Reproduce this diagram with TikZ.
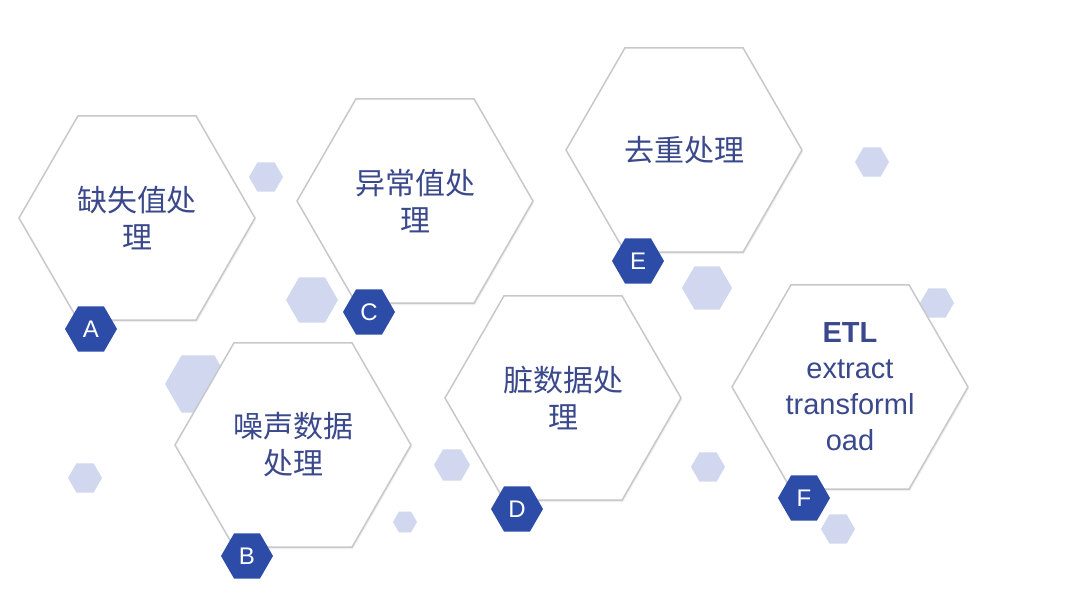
\documentclass[tikz,border=0pt]{standalone}
\usepackage{fontspec}
\setmainfont{Liberation Sans}
\newfontfamily\cjk{Noto Sans CJK SC}
\usetikzlibrary{shapes.geometric, calc, shadows}

\definecolor{hexline}{RGB}{200,200,204}
\definecolor{hextext}{RGB}{58,72,140}
\definecolor{badgeblue}{RGB}{45,76,168}
\definecolor{dotblue}{RGB}{208,215,238}

\begin{document}
\begin{tikzpicture}[
    x=1pt, y=-1pt,
    bighex/.style={regular polygon, regular polygon sides=6, minimum size=236pt, inner sep=0pt,
        draw=hexline, line width=1.5pt, fill=white, text=hextext, align=center,
        drop shadow={shadow xshift=1pt, shadow yshift=-2pt, opacity=0.12}},
    cjktext/.style={font=\cjk\fontsize{30}{37}\selectfont},
    etltext/.style={font=\fontsize{29}{36}\selectfont},
    badge/.style={regular polygon, regular polygon sides=6, minimum size=52pt, inner sep=0pt,
        fill=badgeblue, text=white, font=\fontsize{24}{24}\selectfont},
    dothex/.style={regular polygon, regular polygon sides=6, inner sep=0pt, fill=dotblue}
]

\useasboundingbox[fill=white] (0,0) rectangle (1080,601);

% --- small background hexagons ---
\foreach \x/\y/\d [count=\i] in {266/177/34, 312/300/52, 198/384/66, 85/478/34, 452/465/36,
    405/522/24, 707/288/50, 872/162/34, 937/303/34, 708/467/34, 838/529/34} {
    \node[dothex, minimum size=\d pt] (dot\i) at (\x,\y) {};
}

% --- main hexagons ---
\node[bighex, cjktext] (hA) at (137,218) {缺失值处\\理};
\node[bighex, cjktext] (hB) at (293,445) {噪声数据\\处理};
\node[bighex, cjktext] (hC) at (415,201) {异常值处\\理};
\node[bighex, cjktext] (hD) at (563,398) {脏数据处\\理};
\node[bighex, cjktext] (hE) at (684,150) {去重处理};
\node[bighex, etltext] (hF) at (850,387) {\textbf{ETL}\\extract\\transforml\\oad};

% --- letter badges ---
\foreach \n in {A,B,C,D,E,F} {
    \node[badge] (b\n) at ($(h\n.center)+(-46,111)$) {\n};
}

\end{tikzpicture}
\end{document}
